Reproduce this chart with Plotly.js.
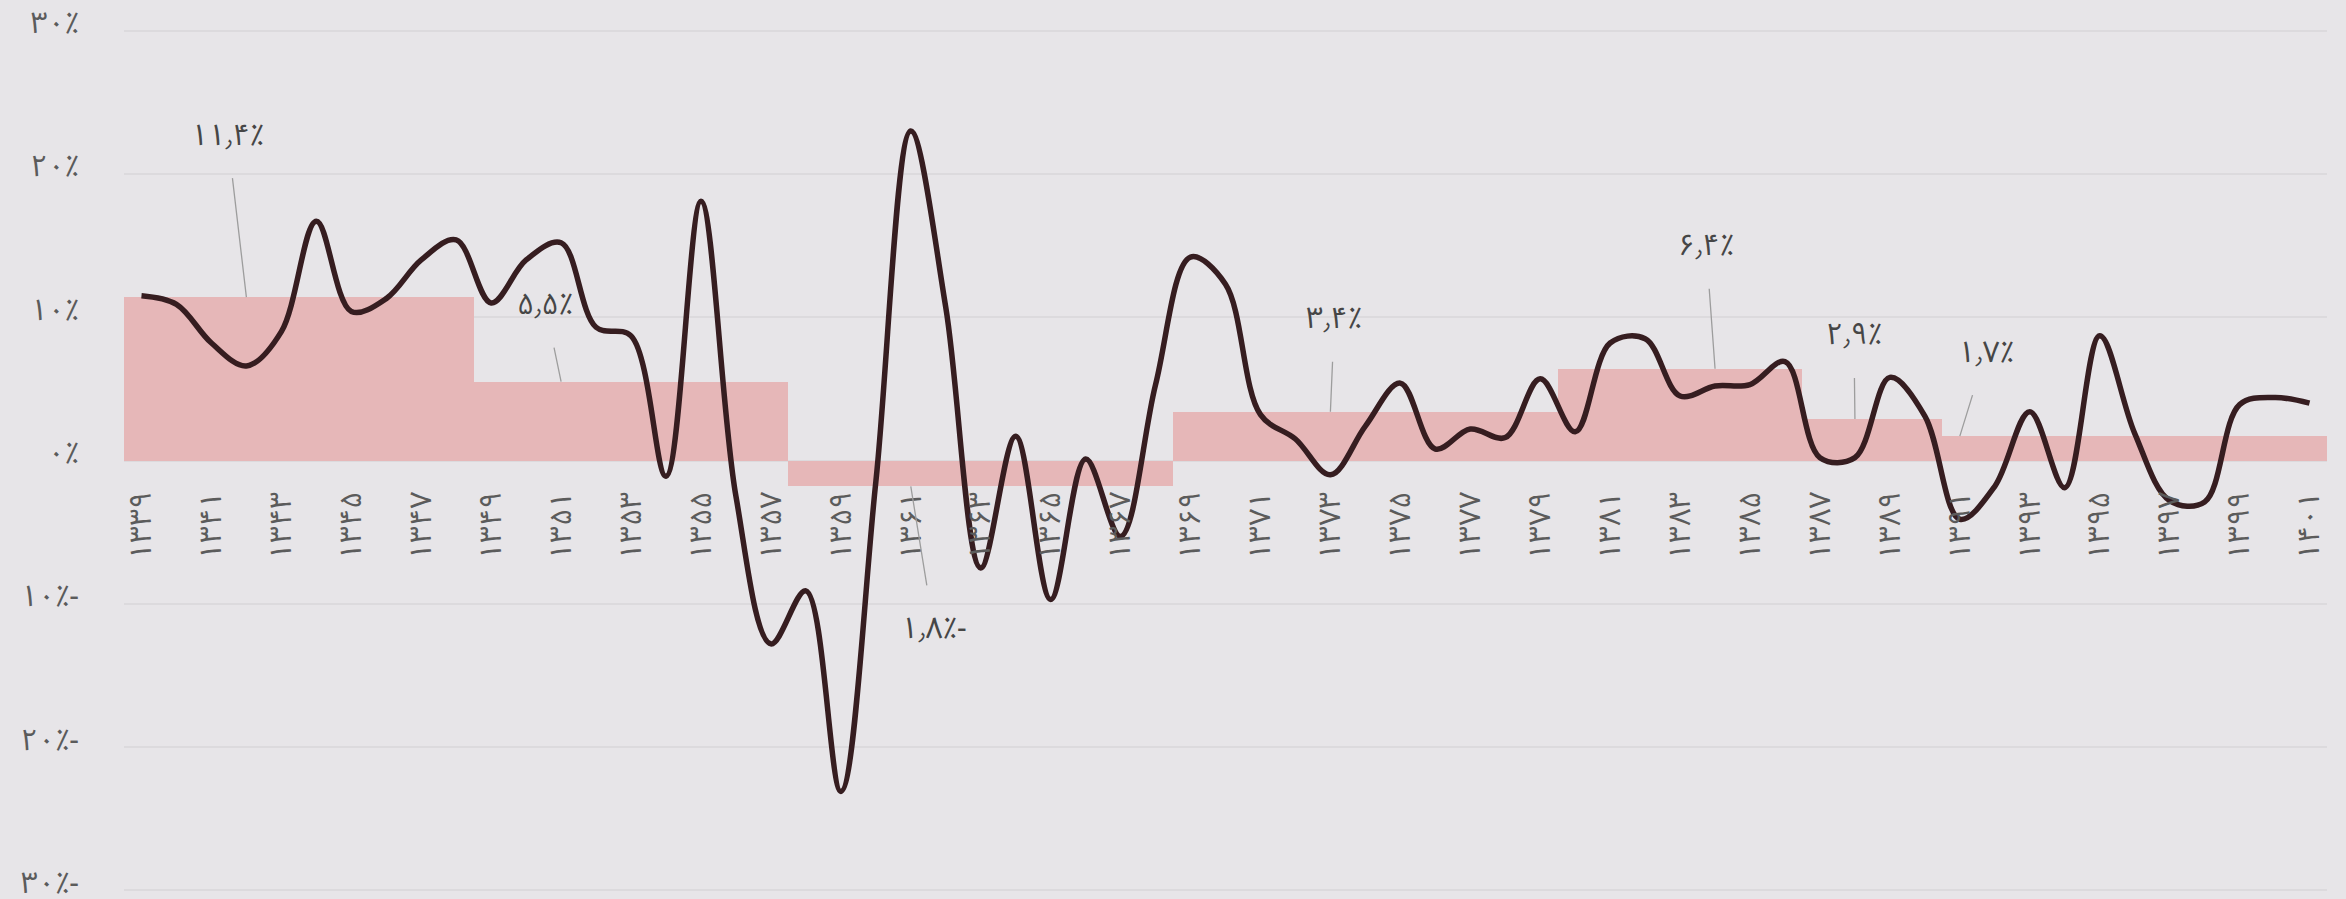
<!DOCTYPE html>
<html><head><meta charset="utf-8">
<script src="https://cdn.plot.ly/plotly-3.0.1.min.js"></script>
<style>html,body{margin:0;padding:0;background:#e7e5e8;}#chart{width:2346px;height:899px;}</style>
</head><body><div id="chart"></div>
<script>
// Annual growth rate (%), years 1339..1401
const years = [1339,1340,1341,1342,1343,1344,1345,1346,1347,1348,
  1349,1350,1351,1352,1353,1354,1355,1356,1357,1358,
  1359,1360,1361,1362,1363,1364,1365,1366,1367,1368,
  1369,1370,1371,1372,1373,1374,1375,1376,1377,1378,
  1379,1380,1381,1382,1383,1384,1385,1386,1387,1388,
  1389,1390,1391,1392,1393,1394,1395,1396,1397,1398,
  1399,1400,1401];
const growth = [11.5,10.9,8.2,6.6,9.0,16.7,10.4,11.3,14.0,15.4,
  11.0,14.0,15.2,9.3,8.7,-1.1,18.1,-2.5,-12.8,-9.1,
  -23.1,-1.5,23.0,10.7,-7.5,1.7,-9.7,0.1,-5.3,5.3,
  14.2,12.3,3.2,1.5,-1.0,2.4,5.4,0.8,2.2,1.6,
  5.7,2.0,8.2,8.5,4.5,5.2,5.3,6.9,0.2,0.2,
  5.8,3.1,-4.1,-1.8,3.4,-1.9,8.7,1.9,-2.8,-2.9,
  3.9,4.4,4.0];

// Period averages
const periodStart = [1339,1349,1358,1369,1380,1387,1391];
const periodEnd   = [1348,1357,1368,1379,1386,1390,1401];
const periodAvg   = [11.4,5.5,-1.8,3.4,6.4,2.9,1.7];
const periodLabels = ["۱۱٫۴٪","۵٫۵٪","۱٫۸٪-","۳٫۴٪","۶٫۴٪","۲٫۹٪","۱٫۷٪"];
const periodLabelYears = [1342,1351,1361,1373,1384,1388,1391];

// Axis ticks
const xTickYears = [1339,1341,1343,1345,1347,1349,1351,1353,1355,1357,1359,1361,1363,1365,1367,1369,1371,1373,1375,1377,1379,1381,1383,1385,1387,1389,1391,1393,1395,1397,1399,1401];
const xTickLabels = ["۱۳۳۹","۱۳۴۱","۱۳۴۳","۱۳۴۵","۱۳۴۷","۱۳۴۹","۱۳۵۱","۱۳۵۳","۱۳۵۵","۱۳۵۷","۱۳۵۹","۱۳۶۱","۱۳۶۳","۱۳۶۵","۱۳۶۷","۱۳۶۹","۱۳۷۱","۱۳۷۳","۱۳۷۵","۱۳۷۷","۱۳۷۹","۱۳۸۱","۱۳۸۳","۱۳۸۵","۱۳۸۷","۱۳۸۹","۱۳۹۱","۱۳۹۳","۱۳۹۵","۱۳۹۷","۱۳۹۹","۱۴۰۱"];
const yTickVals = [-30,-20,-10,0,10,20,30];
const yTickLabels = ["۳۰٪-","۲۰٪-","۱۰٪-","۰٪","۱۰٪","۲۰٪","۳۰٪"];

const FONT = "'Noto Sans Arabic', 'DejaVu Sans', sans-serif";

const barX = periodStart.map((s,i)=> (s + periodEnd[i]) / 2);
const barW = periodStart.map((s,i)=> periodEnd[i] - s + 1);

const traces = [
  {type:'bar', x: barX, y: periodAvg, width: barW,
   marker:{color:'#e6b7b8', line:{width:0}}, hoverinfo:'skip', showlegend:false},
  {type:'scatter', mode:'lines', x: years, y: growth,
   line:{color:'#361d20', width:5.5, shape:'spline', smoothing:1}, showlegend:false}
];

// label text offsets (pixels) relative to the bar edge they point to
const labelOffsets = [[-19,-162],[-16,-77],[23,142],[4,-93],[-9,-123],[-1,-84],[26,-84]];

const annotations = periodLabels.map((t,i)=>({
    x: periodLabelYears[i], y: periodAvg[i], xref:'x', yref:'y',
    text: t, showarrow:true, arrowhead:0, arrowwidth:1.3, arrowcolor:'#9d9d9d',
    ax: labelOffsets[i][0], ay: labelOffsets[i][1], borderpad: 11, standoff:0,
    font:{family:FONT, size:30, color:'#464646'}
}));

const layout = {
  width:2346, height:899,
  margin:{l:124, r:19, t:29, b:7},
  paper_bgcolor:'#e7e5e8', plot_bgcolor:'#e7e5e8',
  bargap:0,
  xaxis:{range:[1338.5,1401.5], anchor:'free', position:0.5, side:'bottom',
    tickmode:'array', tickvals:xTickYears, ticktext:xTickLabels, tickangle:-90,
    ticks:'', showgrid:false, zeroline:false, showline:false,
    ticklabelstandoff:24,
    tickfont:{family:FONT, size:30, color:'#5b5b5b'}},
  yaxis:{range:[-30.12,30.12], tickmode:'array', tickvals:yTickVals, ticktext:yTickLabels,
    showgrid:true, gridcolor:'#dcdadd', gridwidth:2, zeroline:false, showline:false,
    ticks:'', ticklabelstandoff:44, ticklabelshift:-8, ticklabeloverflow:'allow',
    tickfont:{family:FONT, size:30, color:'#5b5b5b'}},
  annotations: annotations,
  font:{family:FONT}
};

Plotly.newPlot('chart', traces, layout, {displayModeBar:false, staticPlot:true});
</script>
</body></html>
